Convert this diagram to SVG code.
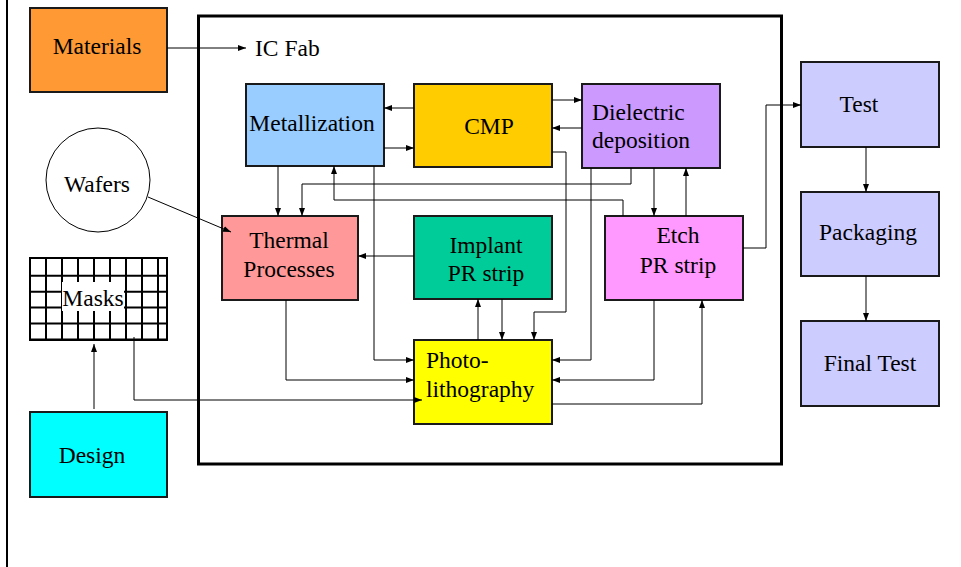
<svg xmlns="http://www.w3.org/2000/svg" width="961" height="567" viewBox="0 0 961 567">
<defs>
<marker id="ah" markerWidth="9" markerHeight="7" refX="8" refY="3" orient="auto" markerUnits="userSpaceOnUse">
<path d="M0,0 L8,3 L0,6 z" fill="#000"/>
</marker>
</defs>
<style>
text{font-family:"Liberation Serif","Times New Roman",serif;font-size:23.5px;fill:#000}
.c{text-anchor:middle}
.box{stroke:#1a1a1a;stroke-width:2}
.conn path{fill:none;stroke:#000;stroke-width:1;marker-end:url(#ah)}
.grid line{stroke:#000;stroke-width:2}
</style>
<rect width="961" height="567" fill="#fff"/>
<line x1="7" y1="0" x2="7" y2="567" stroke="#000" stroke-width="2"/>
<rect x="198.5" y="16" width="583" height="448" fill="none" stroke="#000" stroke-width="3"/>
<text x="255" y="56">IC Fab</text>

<g id="materials"><rect class="box" x="30" y="8" width="137" height="84" fill="#FF9933"/><text class="c" x="97" y="54">Materials</text></g>
<g id="wafers"><circle cx="98" cy="180" r="52" fill="#fff" stroke="#000" stroke-width="1"/><text class="c" x="97" y="192">Wafers</text></g>
<g id="masks">
<rect x="30" y="258" width="137" height="82" fill="#fff" stroke="#000" stroke-width="2"/>
<g class="grid">
<line x1="46" y1="258" x2="46" y2="340"/><line x1="62" y1="258" x2="62" y2="340"/><line x1="78" y1="258" x2="78" y2="340"/><line x1="94" y1="258" x2="94" y2="340"/><line x1="110" y1="258" x2="110" y2="340"/><line x1="126" y1="258" x2="126" y2="340"/><line x1="142" y1="258" x2="142" y2="340"/><line x1="158" y1="258" x2="158" y2="340"/>
<line x1="30" y1="275.7" x2="167" y2="275.7"/><line x1="30" y1="291.7" x2="167" y2="291.7"/><line x1="30" y1="307.5" x2="167" y2="307.5"/><line x1="30" y1="323.5" x2="167" y2="323.5"/><line x1="30" y1="339.5" x2="167" y2="339.5"/>
</g>
<rect x="62" y="282" width="62" height="29" fill="#fff"/>
<text class="c" x="93" y="306">Masks</text>
</g>
<g id="design"><rect class="box" x="30" y="412" width="137" height="85" fill="#00FFFF"/><text class="c" x="92" y="463">Design</text></g>

<g id="metallization"><rect class="box" x="246" y="84" width="138" height="82" fill="#99CCFF"/><text class="c" x="312" y="131">Metallization</text></g>
<g id="cmp"><rect class="box" x="414" y="84" width="138" height="83" fill="#FFCC00"/><text class="c" x="489" y="134">CMP</text></g>
<g id="dielectric"><rect class="box" x="582" y="84" width="138" height="84" fill="#CC99FF"/><text x="592" y="120">Dielectric</text><text x="592" y="148">deposition</text></g>
<g id="thermal"><rect class="box" x="222" y="216" width="136" height="84" fill="#FF9999"/><text class="c" x="289" y="248">Thermal</text><text class="c" x="289" y="277">Processes</text></g>
<g id="implant"><rect class="box" x="414" y="216" width="138" height="83" fill="#00CC99"/><text class="c" x="486" y="253">Implant</text><text class="c" x="486" y="281">PR strip</text></g>
<g id="etch"><rect class="box" x="605" y="216" width="138" height="84" fill="#FF99FF"/><text class="c" x="678" y="243">Etch</text><text class="c" x="678" y="273">PR strip</text></g>
<g id="photolithography"><rect class="box" x="414" y="340" width="138" height="84" fill="#FFFF00"/><text x="426" y="368">Photo-</text><text x="426" y="397">lithography</text></g>

<g id="test"><rect class="box" x="801" y="62" width="138" height="85" fill="#CCCCFF"/><text class="c" x="859" y="112">Test</text></g>
<g id="packaging"><rect class="box" x="801" y="192" width="138" height="84" fill="#CCCCFF"/><text class="c" x="868" y="240">Packaging</text></g>
<g id="finaltest"><rect class="box" x="801" y="321" width="138" height="85" fill="#CCCCFF"/><text class="c" x="870" y="371">Final Test</text></g>

<g id="connectors" class="conn">
<path d="M167,48 H246"/>
<path d="M148,197 L231,232"/>
<path d="M384,148 H414"/>
<path d="M414,108 H384"/>
<path d="M552,100 H582"/>
<path d="M582,128 H552"/>
<path d="M552,152 H566 V312 H534 V340"/>
<path d="M591,168 V360 H552"/>
<path d="M631,168 V184 H302 V216"/>
<path d="M623,216 V200 H334 V166"/>
<path d="M654,168 V216"/>
<path d="M686,216 V168"/>
<path d="M278,166 V216"/>
<path d="M374,166 V360 H414"/>
<path d="M414,256 H358"/>
<path d="M478,340 V299"/>
<path d="M502,299 V340"/>
<path d="M286,300 V380 H414"/>
<path d="M134,337 V400 H422"/>
<path d="M654,300 V380 H552"/>
<path d="M552,404 H702 V300"/>
<path d="M743,248 H766 V105 H801"/>
<path d="M866,147 V192"/>
<path d="M866,276 V321"/>
<path d="M94,409 V344"/>
</g>
</svg>
